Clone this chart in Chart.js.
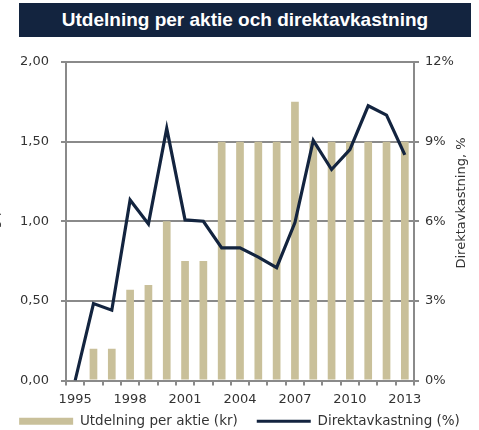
<!DOCTYPE html>
<html>
<head>
<meta charset="utf-8">
<script src="https://cdn.jsdelivr.net/npm/chart.js@4"></script>
<style>
html,body{margin:0;padding:0;background:#fff;overflow:hidden;width:479px;height:430px}
#wrap{position:relative;width:479px;height:430px;overflow:hidden}
#box{position:absolute;left:0;top:0;width:479px;height:447px}
#banner{position:absolute;left:19px;top:3px;width:452px;height:34px;background:#13243f;color:#fff;
font:bold 19px "Liberation Sans",Arial,sans-serif;text-align:center;line-height:33px}
</style>
</head>
<body>
<div id="wrap">
<div id="box"><canvas id="chart"></canvas></div>
<div id="banner">Utdelning per aktie och direktavkastning</div>
</div>
<script>

const years = ["1995","1996","1997","1998","1999","2000","2001","2002","2003","2004",
"2005","2006","2007","2008","2009","2010","2011","2012","2013"];

// kr per aktie
const dividend = [0,0.20,0.20,0.57,0.60,1.00,0.75,0.75,1.50,1.50,
1.50,1.50,1.75,1.50,1.50,1.50,1.50,1.50,1.50];

// direktavkastning, %
const yieldPct = [0,2.9,2.65,6.8,5.9,9.5,6.05,6.0,5.0,5.0,
4.65,4.25,5.95,9.05,7.95,8.7,10.35,10.0,8.5];

const leftTitle = "Utdelning per aktie, kr";
const rightTitle = "Direktavkastning, %";

const gridGrey = "#8a8a8a";
const textGrey = "#333";
const tickFont = {family:"DejaVu Sans", size:13};

/* axeltitlar, roterade nerifrån och upp */

const axisTitles = {
id:"axisTitles",
afterLayout(chart){
// legenden lite närmare x-axeln
chart.legend.top -= 9;
chart.legend.bottom -= 9;
},
afterDraw(chart){
let ctx = chart.ctx;
ctx.save();
ctx.font = '13px "DejaVu Sans"';
ctx.fillStyle = textGrey;
ctx.textAlign = "center";
ctx.textBaseline = "middle";

ctx.save();
ctx.translate(-5,210);
ctx.rotate(-Math.PI/2);
ctx.fillText(leftTitle,0,0);
ctx.restore();

ctx.save();
ctx.translate(462,203);
ctx.rotate(-Math.PI/2);
ctx.fillText(rightTitle,0,0);
ctx.restore();

ctx.restore();
}
};

new Chart(document.getElementById("chart"),{

type:"bar",

data:{
labels:years,
datasets:[
{
label:"Utdelning per aktie (kr)",
data:dividend,
backgroundColor:"#c9c09a",
borderWidth:0,
categoryPercentage:1,
barPercentage:0.42,
pointStyle:"rect",
yAxisID:"y",
order:2
},
{
type:"line",
label:"Direktavkastning (%)",
data:yieldPct,
borderColor:"#13243f",
backgroundColor:"#13243f",
borderWidth:3.2,
pointRadius:0,
pointStyle:"line",
tension:0,
fill:false,
yAxisID:"y1",
order:1
}
]
},

options:{
responsive:true,
maintainAspectRatio:false,
animation:false,
layout:{padding:{top:62,left:0,right:0,bottom:0}},

plugins:{
legend:{
position:"bottom",
labels:{
usePointStyle:true,
pointStyleWidth:54,
boxHeight:7,
padding:19,
color:textGrey,
font:{family:"DejaVu Sans", size:13.5},
sort:function(a,b){ return a.datasetIndex-b.datasetIndex; }
}
},
tooltip:{enabled:false}
},

scales:{

x:{
offset:true,
grid:{offset:true,drawOnChartArea:false,drawTicks:true,tickLength:5,color:gridGrey,lineWidth:2},
border:{color:gridGrey,width:2},
ticks:{
autoSkip:false,
maxRotation:0,
padding:6,
color:textGrey,
font:tickFont,
callback:function(v,i){ return i%3===0 ? years[i] : ""; }
},
afterFit:function(s){ s.height=24; }
},

y:{
position:"left",
min:0,
max:2,
grid:{color:gridGrey,lineWidth:2,tickLength:5},
border:{color:gridGrey,width:2},
ticks:{
stepSize:0.5,
padding:12,
color:textGrey,
font:tickFont,
callback:function(v){ return v.toFixed(2).replace(".",","); }
},
afterFit:function(s){ s.width=66; }
},

y1:{
position:"right",
min:0,
max:12,
grid:{drawOnChartArea:false,color:gridGrey,lineWidth:2,tickLength:5},
border:{color:gridGrey,width:2},
ticks:{
stepSize:3,
padding:6,
color:textGrey,
font:tickFont,
callback:function(v){ return v+"%"; }
},
afterFit:function(s){ s.width=65; }
}

}
},

plugins:[axisTitles]

});

</script>
</body>
</html>
